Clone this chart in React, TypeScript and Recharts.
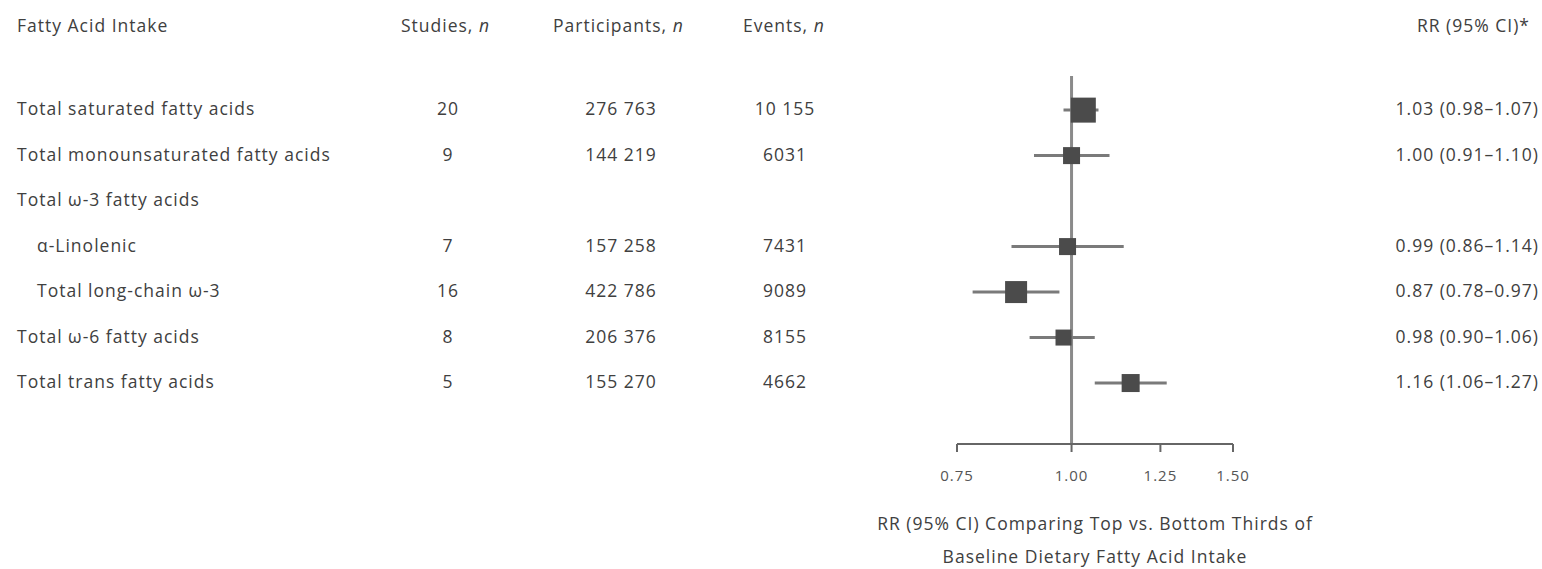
import React from "react";
import {
  ErrorBar,
  ReferenceLine,
  Scatter,
  ScatterChart,
  XAxis,
  YAxis,
} from "recharts";

// rows top to bottom
const ROW_LABELS = [
  "Total saturated fatty acids",
  "Total monounsaturated fatty acids",
  "Total ω-3 fatty acids",
  "α-Linolenic",
  "Total long-chain ω-3",
  "Total ω-6 fatty acids",
  "Total trans fatty acids",
];
const INDENTED = [false, false, false, true, true, false, false];
const STUDIES = [20, 9, null, 7, 16, 8, 5];
const PARTICIPANTS = [276763, 144219, null, 157258, 422786, 206376, 155270];
const EVENTS = [10155, 6031, null, 7431, 9089, 8155, 4662];
const RR = [1.03, 1.0, null, 0.99, 0.87, 0.98, 1.16];
const CI_LOW = [0.98, 0.91, null, 0.86, 0.78, 0.9, 1.06];
const CI_HIGH = [1.07, 1.1, null, 1.14, 0.97, 1.06, 1.27];
// relative weight
const WEIGHT = [25, 17, null, 17, 22, 16, 18];

const X_TICKS = [0.75, 1.0, 1.25, 1.5];
const HEADERS = ["Fatty Acid Intake", "Studies, ", "Participants, ", "Events, ", "RR (95% CI)*"];
const AXIS_TITLE = [
  "RR (95% CI) Comparing Top vs. Bottom Thirds of",
  "Baseline Dietary Fatty Acid Intake",
];

const FONT = "'Open Sans', sans-serif";
const TEXT = "#404040";
const FS = 17.5;
const LS = 1;

const W = 1542;
const H = 569;

const fmtCount = (n: number) =>
  n >= 10000 ? n.toLocaleString("en-US").replace(/,/g, " ") : String(n);

const points = RR.map((rr, i) =>
  rr == null
    ? null
    : {
        x: rr,
        y: i,
        err: [rr - (CI_LOW[i] as number), (CI_HIGH[i] as number) - rr],
        w: WEIGHT[i],
      }
).filter(Boolean) as { x: number; y: number; err: number[]; w: number }[];

function RowTick(props: any) {
  const { y, payload } = props;
  const i = payload.value as number;
  const lo = CI_LOW[i];
  const hi = CI_HIGH[i];
  const rr = RR[i];
  return (
    <g fontFamily={FONT} fontSize={FS} fill={TEXT} letterSpacing={LS}>
      <text x={INDENTED[i] ? 37 : 17} y={y} dy="0.3em" fill={TEXT}>
        {ROW_LABELS[i]}
      </text>
      {STUDIES[i] != null && (
        <text x={448} y={y} dy="0.3em" textAnchor="middle" fill={TEXT}>
          {STUDIES[i]}
        </text>
      )}
      {PARTICIPANTS[i] != null && (
        <text x={621} y={y} dy="0.3em" textAnchor="middle" fill={TEXT}>
          {fmtCount(PARTICIPANTS[i] as number)}
        </text>
      )}
      {EVENTS[i] != null && (
        <text x={785} y={y} dy="0.3em" textAnchor="middle" fill={TEXT}>
          {fmtCount(EVENTS[i] as number)}
        </text>
      )}
      {rr != null && (
        <text x={1539} y={y} dy="0.3em" textAnchor="end" fill={TEXT}>
          {`${rr.toFixed(2)} (${(lo as number).toFixed(2)}–${(hi as number).toFixed(2)})`}
        </text>
      )}
    </g>
  );
}

function Box(props: any) {
  const { cx, cy, payload } = props;
  const s = payload.w;
  return <rect x={cx - s / 2} y={cy - s / 2} width={s} height={s} fill="#4b4b4b" />;
}

function AxisTitle(props: any) {
  const { viewBox } = props;
  const cx = viewBox.x + viewBox.width / 2;
  return (
    <g fontFamily={FONT} fontSize={FS} fill={TEXT} textAnchor="middle" letterSpacing={LS}>
      <text x={cx} y={viewBox.y + 80} dy="0.35em">{AXIS_TITLE[0]}</text>
      <text x={cx} y={viewBox.y + 113} dy="0.35em">{AXIS_TITLE[1]}</text>
    </g>
  );
}

export default function App() {
  return (
    <div style={{ position: "absolute", left: 0, top: 0, width: W, height: H, background: "#fff" }}>
      <div
        style={{
          position: "absolute",
          top: 14,
          left: 0,
          width: W,
          fontFamily: FONT,
          fontSize: FS,
          letterSpacing: LS,
          color: TEXT,
          lineHeight: "22px",
          whiteSpace: "nowrap",
        }}
      >
        <span style={{ position: "absolute", left: 17 }}>{HEADERS[0]}</span>
        <span style={{ position: "absolute", left: 401 }}>
          {HEADERS[1]}
          <i>n</i>
        </span>
        <span style={{ position: "absolute", left: 553 }}>
          {HEADERS[2]}
          <i>n</i>
        </span>
        <span style={{ position: "absolute", left: 743 }}>
          {HEADERS[3]}
          <i>n</i>
        </span>
        <span style={{ position: "absolute", right: 12 }}>{HEADERS[4]}</span>
      </div>
      <ScatterChart width={W} height={H} margin={{ top: 76, right: 309, bottom: 0, left: 0 }}>
        <XAxis
          type="number"
          dataKey="x"
          scale="log"
          domain={[0.75, 1.5]}
          ticks={X_TICKS}
          allowDataOverflow
          tickFormatter={(v: number) => v.toFixed(2)}
          height={125}
          tickSize={8}
          tickMargin={18}
          axisLine={{ stroke: "#666", strokeWidth: 2 }}
          tickLine={{ stroke: "#666", strokeWidth: 2 }}
          tick={{ fontFamily: FONT, fontSize: 15, fill: "#555", letterSpacing: 1 }}
          label={{ content: AxisTitle }}
        />
        <YAxis
          type="number"
          dataKey="y"
          domain={[-0.75, 7.34]}
          reversed
          ticks={[0, 1, 2, 3, 4, 5, 6]}
          width={957}
          axisLine={false}
          tickLine={false}
          tick={<RowTick />}
          interval={0}
        />
        <ReferenceLine x={1} stroke="#8a8a8a" strokeWidth={3} />
        <Scatter data={points} shape={<Box />} isAnimationActive={false}>
          <ErrorBar dataKey="err" direction="x" width={0} stroke="#7a7a7a" strokeWidth={3} />
        </Scatter>
      </ScatterChart>
    </div>
  );
}
